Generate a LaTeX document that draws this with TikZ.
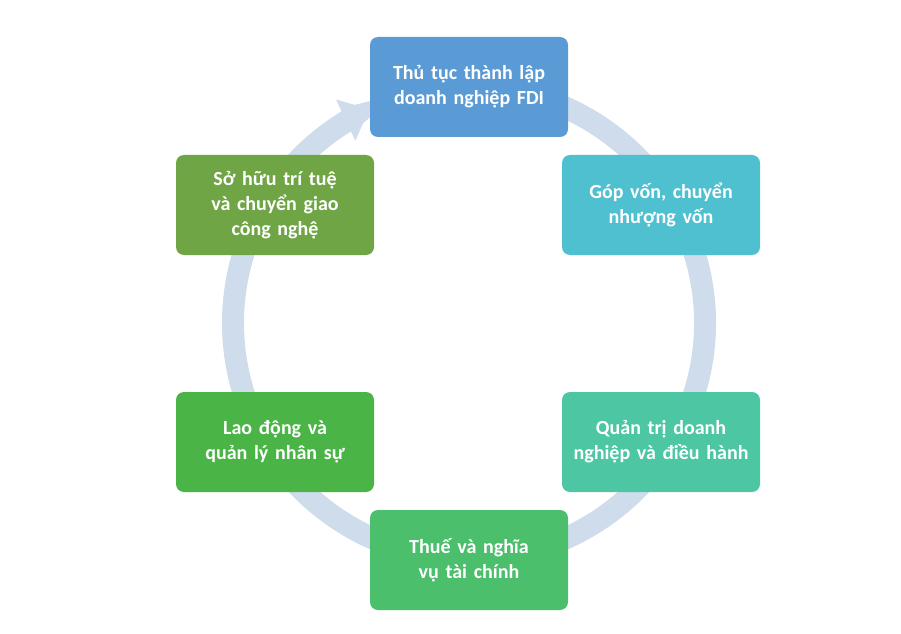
\documentclass[tikz,border=0pt]{standalone}
\usepackage{fontspec}
\setmainfont{Carlito}
\usetikzlibrary{arrows.meta}
\definecolor{ringc}{HTML}{CFDCEC}
\definecolor{c1}{HTML}{5B9BD5}
\definecolor{c2}{HTML}{4FC0CF}
\definecolor{c3}{HTML}{4DC7A3}
\definecolor{c4}{HTML}{4BBF6C}
\definecolor{c5}{HTML}{4AB446}
\definecolor{c6}{HTML}{6FA545}
\tikzset{box/.style={rounded corners=8pt,minimum width=198pt,minimum height=100pt,text width=180pt,align=center,text=white,font=\bfseries\fontsize{20}{25}\selectfont,inner sep=0pt}}
\begin{document}
\begin{tikzpicture}[x=1pt,y=1pt]
\useasboundingbox (0,0) rectangle (901,633);
\coordinate (c) at (469,310);
\draw[ringc,line width=22pt] (c) ++(112:236) arc (112:-240:236);
\draw[ringc,line width=22pt,-{Triangle[width=44pt,length=26pt]}] (c) ++(-238:236) arc (-238:-245:236);
\node[box,fill=c1] (a) at (469,546) {Thủ tục thành lập doanh nghiệp FDI};
\node[box,fill=c2] (b) at (661,428) {Góp vốn, chuyển nhượng vốn};
\node[box,fill=c3] (d) at (661,191) {Quản trị doanh nghiệp và điều hành};
\node[box,fill=c4] (e) at (469,73) {Thuế và nghĩa vụ tài chính};
\node[box,fill=c5] (f) at (275,191) {Lao động và quản lý nhân sự};
\node[box,fill=c6] (g) at (275,428) {Sở hữu trí tuệ và chuyển giao công nghệ};
\end{tikzpicture}
\end{document}
